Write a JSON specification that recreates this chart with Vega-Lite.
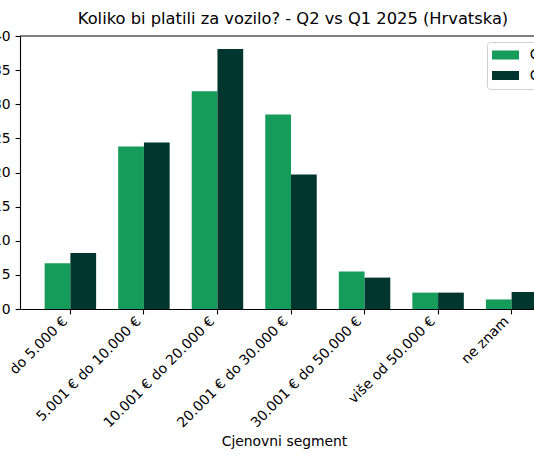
{
  "$schema": "https://vega.github.io/schema/vega-lite/v6.json",
  "autosize": "none",
  "width": 514,
  "height": 273,
  "padding": {"left": 20, "top": 36, "right": 0, "bottom": 153},
  "background": "white",
  "title": {
    "text": "Koliko bi platili za vozilo? - Q2 vs Q1 2025 (Hrvatska)",
    "font": "DejaVu Sans",
    "fontSize": 16.3,
    "fontWeight": "normal",
    "color": "black",
    "anchor": "middle",
    "frame": "group",
    "dx": 16,
    "dy": 18,
    "offset": 4,
    "baseline": "bottom"
  },
  "config": {
    "view": {"stroke": null},
    "font": "DejaVu Sans",
    "axis": {
      "domainColor": "black",
      "domainWidth": 1.1,
      "tickColor": "black",
      "tickWidth": 1.1,
      "tickSize": 4.9,
      "labelColor": "black",
      "labelFont": "DejaVu Sans",
      "labelFontSize": 13.9,
      "labelPadding": 4.9,
      "titleColor": "black",
      "titleFont": "DejaVu Sans",
      "titleFontSize": 13.9,
      "titleFontWeight": "normal",
      "grid": false
    }
  },
  "data": {
    "values": [
      {"segment": "do 5.000 €", "period": "Q2 2025", "value": 6.7},
      {"segment": "do 5.000 €", "period": "Q1 2025", "value": 8.2},
      {"segment": "5.001 € do 10.000 €", "period": "Q2 2025", "value": 23.8},
      {"segment": "5.001 € do 10.000 €", "period": "Q1 2025", "value": 24.4},
      {"segment": "10.001 € do 20.000 €", "period": "Q2 2025", "value": 31.9},
      {"segment": "10.001 € do 20.000 €", "period": "Q1 2025", "value": 38.1},
      {"segment": "20.001 € do 30.000 €", "period": "Q2 2025", "value": 28.5},
      {"segment": "20.001 € do 30.000 €", "period": "Q1 2025", "value": 19.7},
      {"segment": "30.001 € do 50.000 €", "period": "Q2 2025", "value": 5.5},
      {"segment": "30.001 € do 50.000 €", "period": "Q1 2025", "value": 4.6},
      {"segment": "više od 50.000 €", "period": "Q2 2025", "value": 2.4},
      {"segment": "više od 50.000 €", "period": "Q1 2025", "value": 2.4},
      {"segment": "ne znam", "period": "Q2 2025", "value": 1.4},
      {"segment": "ne znam", "period": "Q1 2025", "value": 2.5}
    ]
  },
  "layer": [
    {
      "mark": {"type": "bar"},
      "encoding": {
        "x": {
          "field": "segment",
          "type": "nominal",
          "sort": ["do 5.000 €", "5.001 € do 10.000 €", "10.001 € do 20.000 €", "20.001 € do 30.000 €", "30.001 € do 50.000 €", "više od 50.000 €", "ne znam"],
          "scale": {"range": [0, 542], "paddingInner": 0.3, "paddingOuter": 0.335},
          "axis": {
            "title": "Cjenovni segment",
            "labelAngle": -45,
            "labelAlign": "right",
            "labelBaseline": "middle",
            "labelOffset": -5,
            "labelPadding": 5,
            "titleX": 264,
            "titleY": 136,
            "titleBaseline": "alphabetic"
          }
        },
        "xOffset": {
          "field": "period",
          "type": "nominal",
          "sort": ["Q2 2025", "Q1 2025"],
          "scale": {"paddingInner": 0, "paddingOuter": 0}
        },
        "y": {
          "field": "value",
          "type": "quantitative",
          "scale": {"domain": [0, 40]},
          "axis": {"title": null, "values": [0, 5, 10, 15, 20, 25, 30, 35, 40], "labelOverlap": false}
        },
        "color": {
          "field": "period",
          "type": "nominal",
          "scale": {"domain": ["Q2 2025", "Q1 2025"], "range": ["#169c5a", "#00362e"]},
          "legend": {
            "title": null,
            "orient": "none",
            "legendX": 467,
            "legendY": 6,
            "padding": 5,
            "fillColor": "white",
            "strokeColor": "#d0d0d0",
            "cornerRadius": 3,
            "symbolType": "M-1,-0.333H1V0.333H-1Z",
            "symbolSize": 729,
            "symbolStrokeWidth": 0,
            "symbolOpacity": 1,
            "labelFont": "DejaVu Sans",
            "labelFontSize": 13.9,
            "labelColor": "black",
            "labelOffset": 10.7,
            "clipHeight": 16,
            "rowPadding": 4.5
          }
        }
      }
    },
    {
      "data": {"values": [{}]},
      "mark": {"type": "rule", "color": "black", "strokeWidth": 1.1},
      "encoding": {
        "y": {
          "datum": 40,
          "type": "quantitative",
          "axis": {"title": null, "values": [0, 5, 10, 15, 20, 25, 30, 35, 40], "labelOverlap": false}
        }
      }
    }
  ]
}
